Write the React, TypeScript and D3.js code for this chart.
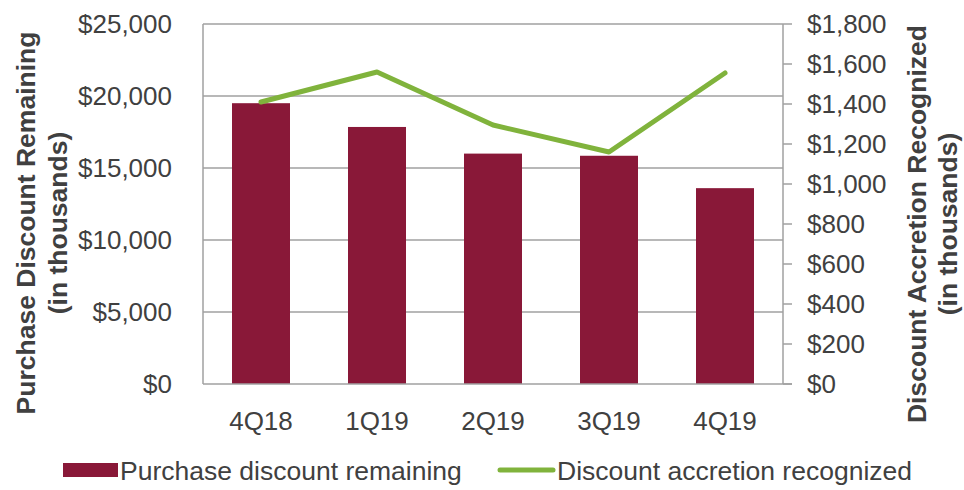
import React from 'react';
import * as d3 from 'd3';

const quarters = ['4Q18', '1Q19', '2Q19', '3Q19', '4Q19'];
const discountRemaining = [19500, 17850, 16000, 15850, 13600];
const accretionRecognized = [1410, 1560, 1295, 1160, 1555];
const leftTicks = [0, 5000, 10000, 15000, 20000, 25000];
const rightTicks = [0, 200, 400, 600, 800, 1000, 1200, 1400, 1600, 1800];

const BAR = '#891838';
const LINE = '#80b33c';
const TEXT = '#404040';
const GRID = '#a0a0a0';
const FONT = '"Liberation Sans", Arial, sans-serif';

export default function App() {
  const width = 964;
  const height = 490;
  const left = 203;
  const right = 783;
  const top = 24;
  const bottom = 384;

  const x = d3.scaleBand().domain(quarters).range([left, right]).paddingInner(0.5).paddingOuter(0.25);
  const yL = d3.scaleLinear().domain([0, 25000]).range([bottom, top]);
  const yR = d3.scaleLinear().domain([0, 1800]).range([bottom, top]);
  const fmt = d3.format('$,');

  const line = d3.line<number>()
    .x((_, i) => (x(quarters[i]) as number) + x.bandwidth() / 2)
    .y(d => yR(d));

  return (
    <svg width={width} height={height} style={{ position: 'absolute', left: 0, top: 0 }} fontFamily={FONT}>
      <rect width={width} height={height} fill="#fff" />

      {/* gridlines */}
      {leftTicks.filter(t => t > 0).map(t => (
        <line key={t} x1={left} x2={right} y1={yL(t)} y2={yL(t)} stroke={GRID} strokeWidth={1.5} />
      ))}

      {/* bars */}
      {quarters.map((q, i) => (
        <rect key={q} x={x(q)} y={yL(discountRemaining[i])} width={x.bandwidth()}
          height={bottom - yL(discountRemaining[i])} fill={BAR} />
      ))}

      {/* axes lines */}
      <line x1={left} x2={left} y1={top} y2={bottom} stroke={GRID} strokeWidth={1.5} />
      <line x1={right} x2={right} y1={top} y2={bottom} stroke={GRID} strokeWidth={1.5} />
      <line x1={left} x2={right + 9} y1={bottom} y2={bottom} stroke={GRID} strokeWidth={1.5} />
      {rightTicks.map(t => (
        <line key={t} x1={right} x2={right + 9} y1={yR(t)} y2={yR(t)} stroke={GRID} strokeWidth={1.5} />
      ))}

      {/* line series */}
      <path d={line(accretionRecognized) || ''} fill="none" stroke={LINE} strokeWidth={5}
        strokeLinecap="round" strokeLinejoin="round" />

      {/* left tick labels */}
      {leftTicks.map(t => (
        <text key={t} x={172} y={yL(t)} dy="0.36em" textAnchor="end" fontSize={26} fill={TEXT}>{fmt(t)}</text>
      ))}
      {/* right tick labels */}
      {rightTicks.map(t => (
        <text key={t} x={807} y={yR(t)} dy="0.36em" textAnchor="start" fontSize={26} fill={TEXT}>{fmt(t)}</text>
      ))}
      {/* category labels */}
      {quarters.map(q => (
        <text key={q} x={(x(q) as number) + x.bandwidth() / 2} y={421} dy="0.36em" textAnchor="middle"
          fontSize={26} fill={TEXT}>{q}</text>
      ))}

      {/* axis titles */}
      <g transform="translate(25,223) rotate(-90)">
        <text textAnchor="middle" dy="0.36em" fontSize={26.5} fontWeight="bold" fill={TEXT}>Purchase Discount Remaining</text>
        <text y={32} textAnchor="middle" dy="0.36em" fontSize={26.5} fontWeight="bold" fill={TEXT}>(in thousands)</text>
      </g>
      <g transform="translate(916,224) rotate(-90)">
        <text textAnchor="middle" dy="0.36em" fontSize={26.5} fontWeight="bold" fill={TEXT}>Discount Accretion Recognized</text>
        <text y={31} textAnchor="middle" dy="0.36em" fontSize={26.5} fontWeight="bold" fill={TEXT}>(in thousands)</text>
      </g>

      {/* legend */}
      <rect x={63} y={463} width={55} height={14} fill={BAR} />
      <text x={120} y={470} dy="0.36em" fontSize={26.5} fill={TEXT}>Purchase discount remaining</text>
      <line x1={500} x2={553} y1={470} y2={470} stroke={LINE} strokeWidth={5} strokeLinecap="round" />
      <text x={557} y={470} dy="0.36em" fontSize={26.5} fill={TEXT}>Discount accretion recognized</text>
    </svg>
  );
}
